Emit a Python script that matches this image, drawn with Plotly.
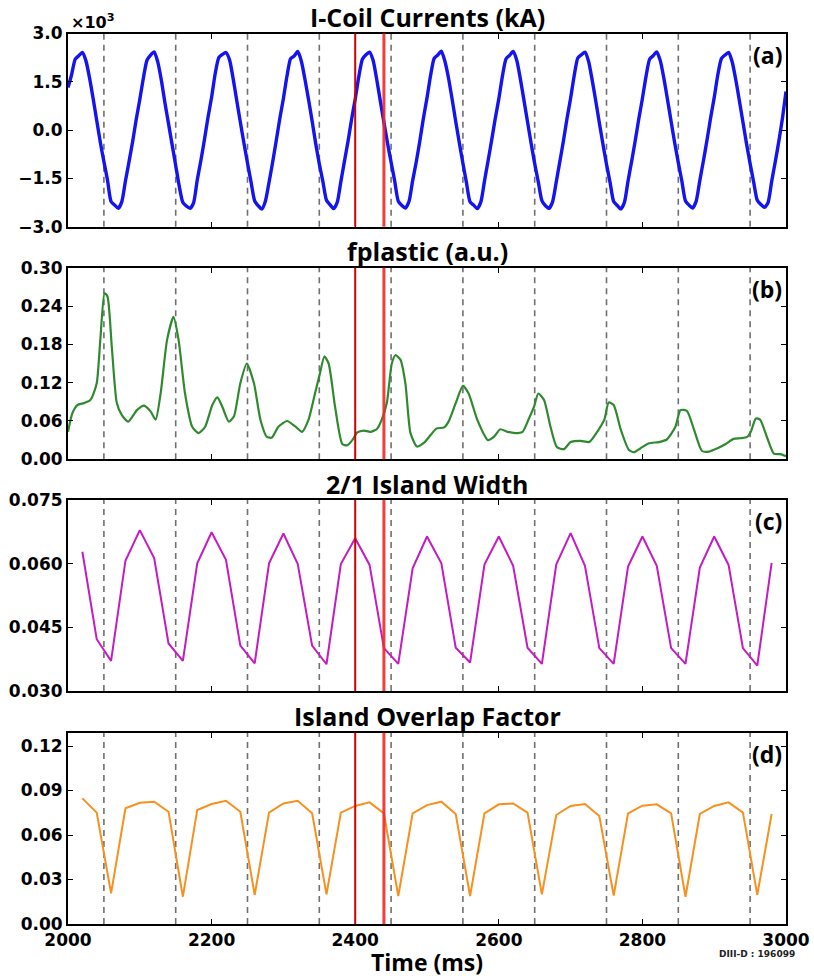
import plotly.graph_objects as go

# ---------------- data ----------------
icoil_t = list(range(2000, 3001, 5))
icoil_ka = [
    1.32, 1.72, 2.20, 2.31, 2.41, 2.15, 1.62, 0.98, 0.30, -0.38, -0.98, -1.55, -2.22, -2.33, -2.43, -2.22, -1.58, -0.98, -0.36, 0.33,
    0.95, 1.62, 2.17, 2.33, 2.43, 2.12, 1.55, 0.85, 0.20, -0.45, -1.10, -1.75, -2.25, -2.36, -2.43, -2.25, -1.55, -0.95, -0.30, 0.40,
    1.02, 1.75, 2.25, 2.35, 2.41, 2.18, 1.60, 0.92, 0.25, -0.40, -1.02, -1.62, -2.20, -2.35, -2.45, -2.20, -1.62, -1.00, -0.33, 0.36,
    0.98, 1.68, 2.22, 2.30, 2.44, 2.14, 1.58, 0.95, 0.28, -0.42, -1.05, -1.60, -2.18, -2.32, -2.44, -2.24, -1.60, -0.97, -0.35, 0.34,
    0.96, 1.66, 2.20, 2.34, 2.42, 2.16, 1.57, 0.90, 0.24, -0.40, -1.00, -1.58, -2.21, -2.34, -2.42, -2.21, -1.57, -0.99, -0.34, 0.37,
    1.00, 1.70, 2.23, 2.33, 2.45, 2.13, 1.61, 0.96, 0.27, -0.39, -1.03, -1.64, -2.23, -2.33, -2.44, -2.23, -1.59, -0.96, -0.32, 0.35,
    0.97, 1.67, 2.21, 2.32, 2.44, 2.17, 1.59, 0.93, 0.26, -0.41, -1.04, -1.61, -2.19, -2.35, -2.43, -2.22, -1.61, -0.98, -0.34, 0.36,
    0.99, 1.69, 2.24, 2.34, 2.42, 2.14, 1.56, 0.91, 0.23, -0.43, -1.06, -1.63, -2.22, -2.34, -2.45, -2.24, -1.58, -0.97, -0.33, 0.35,
    0.98, 1.66, 2.20, 2.31, 2.43, 2.15, 1.60, 0.94, 0.27, -0.40, -1.01, -1.59, -2.20, -2.33, -2.42, -2.20, -1.56, -0.95, -0.31, 0.38,
    1.01, 1.71, 2.22, 2.33, 2.41, 2.12, 1.57, 0.92, 0.25, -0.42, -1.04, -1.62, -2.18, -2.31, -2.40, -2.25, -1.60, -0.99, -0.35, 0.36,
    1.20,
]

fplastic_t = [
    2000, 2006, 2013, 2022, 2029, 2033, 2040, 2045, 2051, 2055, 2061, 2068, 2075, 2084, 2096, 2106, 2115, 2122,
    2129, 2138, 2147, 2154, 2163, 2173, 2182, 2191, 2201, 2208, 2215, 2224, 2231, 2240, 2249, 2259, 2268, 2277,
    2284, 2293, 2305, 2317, 2326, 2335, 2344, 2351, 2357, 2363, 2372, 2382, 2389, 2396, 2403, 2412, 2421, 2430,
    2437, 2444, 2451, 2456, 2463, 2470, 2477, 2486, 2496, 2505, 2513, 2524, 2530, 2540, 2550, 2558, 2570, 2585,
    2593, 2602, 2612, 2623, 2633, 2642, 2649, 2655, 2663, 2672, 2681, 2691, 2700, 2714, 2726, 2737, 2747, 2753,
    2760, 2770, 2781, 2788, 2797, 2809, 2823, 2834, 2846, 2853, 2862, 2872, 2883, 2893, 2904, 2916, 2927, 2937,
    2946, 2951, 2958, 2964, 2974, 2983, 2992, 3000,
]
fplastic = [
    0.043, 0.072, 0.085, 0.088, 0.091, 0.096, 0.119, 0.187, 0.260, 0.255, 0.176, 0.088, 0.069, 0.059, 0.077, 0.084, 0.075, 0.062,
    0.103, 0.187, 0.223, 0.187, 0.103, 0.051, 0.041, 0.051, 0.085, 0.097, 0.082, 0.059, 0.067, 0.119, 0.150, 0.119, 0.062, 0.035,
    0.034, 0.051, 0.060, 0.051, 0.043, 0.062, 0.103, 0.135, 0.161, 0.150, 0.082, 0.024, 0.022, 0.030, 0.042, 0.045, 0.043, 0.047,
    0.062, 0.088, 0.150, 0.163, 0.156, 0.118, 0.041, 0.020, 0.026, 0.038, 0.048, 0.050, 0.059, 0.088, 0.115, 0.103, 0.062, 0.030,
    0.035, 0.047, 0.043, 0.041, 0.043, 0.064, 0.082, 0.103, 0.093, 0.051, 0.019, 0.016, 0.027, 0.029, 0.027, 0.043, 0.062, 0.089,
    0.085, 0.046, 0.015, 0.011, 0.017, 0.025, 0.027, 0.031, 0.051, 0.077, 0.076, 0.046, 0.013, 0.012, 0.017, 0.024, 0.032, 0.033,
    0.035, 0.043, 0.064, 0.062, 0.033, 0.009, 0.008, 0.005,
]

island_t = list(range(2020, 2981, 20))
island_width = [
    0.0628, 0.0422, 0.0371, 0.0607, 0.0679, 0.0613, 0.0412, 0.0371, 0.0601, 0.0674,
    0.0609, 0.0407, 0.0365, 0.0601, 0.0671, 0.0599, 0.0407, 0.0363, 0.0599, 0.0660,
    0.0597, 0.0401, 0.0364, 0.0589, 0.0664, 0.0601, 0.0402, 0.0367, 0.0598, 0.0664,
    0.0595, 0.0402, 0.0364, 0.0598, 0.0672, 0.0595, 0.0401, 0.0364, 0.0593, 0.0664,
    0.0595, 0.0401, 0.0364, 0.0591, 0.0664, 0.0597, 0.0401, 0.0360, 0.0602,
]
overlap_factor = [
    0.0847, 0.0751, 0.0207, 0.0780, 0.0818, 0.0825, 0.0757, 0.0184, 0.0769, 0.0809,
    0.0831, 0.0757, 0.0196, 0.0751, 0.0813, 0.0831, 0.0746, 0.0200, 0.0751, 0.0796,
    0.0820, 0.0746, 0.0189, 0.0746, 0.0802, 0.0825, 0.0742, 0.0189, 0.0746, 0.0807,
    0.0813, 0.0751, 0.0200, 0.0735, 0.0796, 0.0809, 0.0728, 0.0191, 0.0746, 0.0798,
    0.0807, 0.0746, 0.0184, 0.0742, 0.0796, 0.0820, 0.0751, 0.0196, 0.0742,
]

dash_times = [2050, 2150, 2250, 2350, 2450, 2550, 2650, 2750, 2850, 2950]
red_times = [2400, 2440]
x_ticks = [2000, 2200, 2400, 2600, 2800, 3000]

panel_titles = ["I-Coil Currents (kA)", "fplastic (a.u.)", "2/1 Island Width", "Island Overlap Factor"]
panel_tags = ["(a)", "(b)", "(c)", "(d)"]
y_ticks = [
    [-3.0, -1.5, 0.0, 1.5, 3.0],
    [0.00, 0.06, 0.12, 0.18, 0.24, 0.30],
    [0.030, 0.045, 0.060, 0.075],
    [0.00, 0.03, 0.06, 0.09, 0.12],
]
y_ticktext = [
    ["\u22123.0", "\u22121.5", "0.0", "1.5", "3.0"],
    ["0.00", "0.06", "0.12", "0.18", "0.24", "0.30"],
    ["0.030", "0.045", "0.060", "0.075"],
    ["0.00", "0.03", "0.06", "0.09", "0.12"],
]
y_ranges = [[-3.0, 3.0], [0.0, 0.30], [0.030, 0.075], [0.0, 0.129]]

# ---------------- layout geometry ----------------
W, H = 814, 979
px_left, px_right = 68, 786
panel_px = [(33.5, 226.7), (267.7, 459.3), (500.0, 691.0), (732.7, 924.0)]
xdom = [px_left / W, px_right / W]


def ypaper(py):
    return 1 - py / H


fig = go.Figure()

series = [
    (icoil_t, icoil_ka, "#1414f0", 3.4, "spline"),
    (fplastic_t, fplastic, "#2f8a2f", 2.2, "spline"),
    (island_t, island_width, "#c21cc2", 2.0, "linear"),
    (island_t, overlap_factor, "#f7901e", 2.0, "linear"),
]

tick_font = dict(family="DejaVu Sans", size=17, color="black", weight="bold")
title_font = dict(family="Open Sans", size=25, color="black", weight="bold")

annotations = []
shapes = []
for i, (xs, ys, col, lw, shp) in enumerate(series):
    n = i + 1
    xa = "x" if n == 1 else f"x{n}"
    ya = "y" if n == 1 else f"y{n}"
    line = dict(color=col, width=lw, shape=shp)
    if shp == "spline":
        line["smoothing"] = 0.6
    fig.add_trace(go.Scatter(x=xs, y=ys, mode="lines", line=line,
                             xaxis=xa, yaxis=ya, showlegend=False, hoverinfo="skip"))
    top, bot = panel_px[i]
    fig.layout[f"xaxis{'' if n == 1 else n}"] = dict(
        domain=xdom, anchor=ya, range=[2000, 3000],
        tickvals=x_ticks, ticktext=[str(v) for v in x_ticks],
        showticklabels=(n == 4), ticks="inside", ticklen=5, tickwidth=1.2,
        tickcolor="black", showline=True, linecolor="black", linewidth=2,
        mirror="ticks", showgrid=False, zeroline=False, tickfont=tick_font,
        automargin=False,
    )
    fig.layout[f"yaxis{'' if n == 1 else n}"] = dict(
        domain=[ypaper(bot), ypaper(top)], anchor=xa, range=y_ranges[i],
        tickvals=y_ticks[i], ticktext=y_ticktext[i],
        ticks="inside", ticklen=5, tickwidth=1.2, tickcolor="black",
        showline=True, linecolor="black", linewidth=2, mirror="ticks",
        showgrid=False, zeroline=False, tickfont=tick_font, automargin=False,
    )
    for t in dash_times:
        shapes.append(dict(type="line", xref=xa, yref=f"{ya} domain", x0=t, x1=t, y0=0, y1=1,
                           line=dict(color="#707070", width=1.6, dash="6px,5px"), layer="below"))
    shapes.append(dict(type="line", xref=xa, yref=f"{ya} domain", x0=red_times[0], x1=red_times[0],
                       y0=0, y1=1, line=dict(color="#d00000", width=2), layer="above"))
    shapes.append(dict(type="line", xref=xa, yref=f"{ya} domain", x0=red_times[1], x1=red_times[1],
                       y0=0, y1=1, line=dict(color="rgba(240,40,40,0.9)", width=3), layer="above"))
    # panel title
    annotations.append(dict(text=panel_titles[i], xref="paper", yref="paper",
                            x=(px_left + px_right) / 2 / W, y=ypaper(top + 2.5), xanchor="center",
                            yanchor="bottom", showarrow=False, font=title_font))
    # panel tag
    annotations.append(dict(text=panel_tags[i], xref="paper", yref="paper",
                            x=(px_right - 2) / W, y=ypaper(top + 3), xanchor="right", yanchor="top",
                            showarrow=False,
                            font=dict(family="Open Sans", size=23, color="black", weight="bold")))

annotations.append(dict(text="\u00d710<sup>3</sup>", xref="paper", yref="paper",
                        x=69 / W, y=ypaper(34), xanchor="left", yanchor="bottom", showarrow=False,
                        font=dict(family="DejaVu Sans", size=16, color="black", weight="bold")))
annotations.append(dict(text="Time (ms)", xref="paper", yref="paper",
                        x=(px_left + px_right) / 2 / W, y=ypaper(962), xanchor="center",
                        yanchor="middle", showarrow=False,
                        font=dict(family="Open Sans", size=23, color="black", weight="bold")))
annotations.append(dict(text="DIII-D : 196099", xref="paper", yref="paper",
                        x=797 / W, y=ypaper(954), xanchor="right", yanchor="middle", showarrow=False,
                        font=dict(family="DejaVu Sans", size=9, color="#222222", weight="bold")))

fig.update_layout(
    width=W, height=H, margin=dict(l=0, r=0, t=0, b=0),
    paper_bgcolor="white", plot_bgcolor="white",
    shapes=shapes, annotations=annotations, showlegend=False,
)

fig.write_html("out.html")
